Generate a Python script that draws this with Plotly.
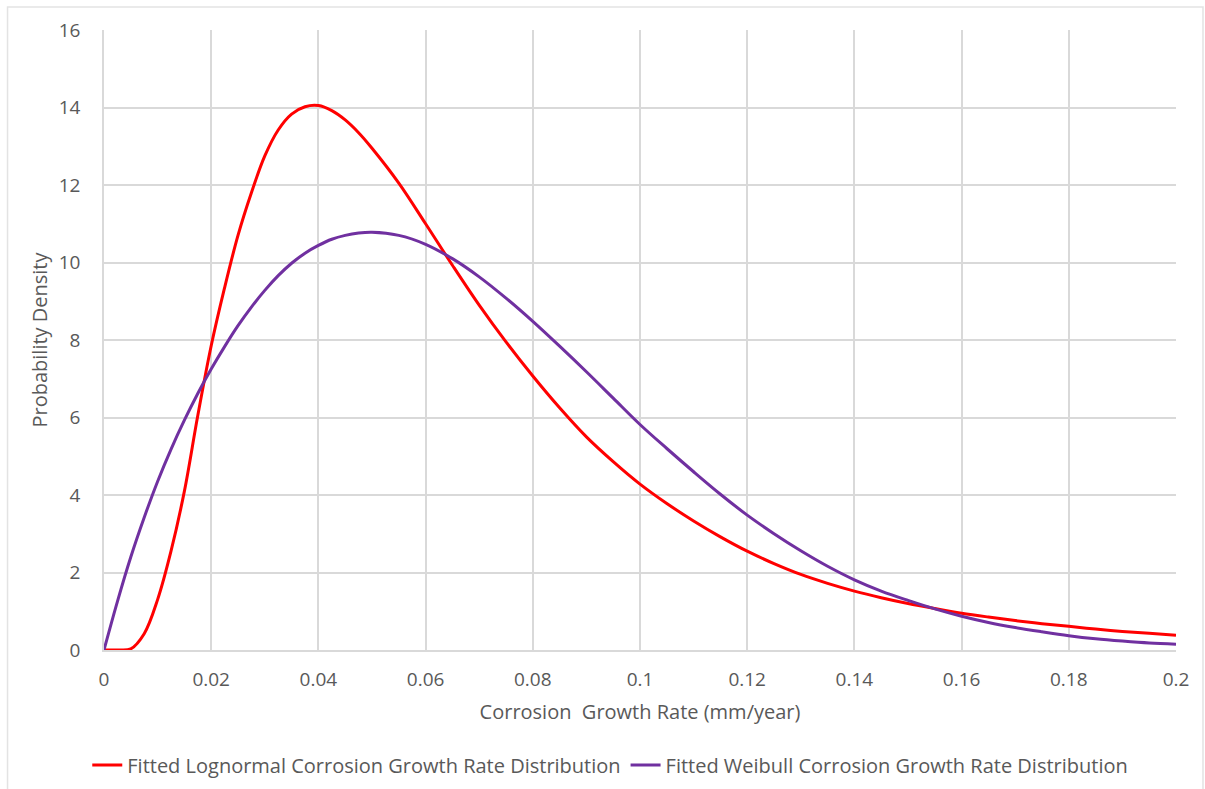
import plotly.graph_objects as go

# Fitted lognormal density (mm/year -> probability density)
lognormal_x = [0, 0.0025, 0.005, 0.0075, 0.01, 0.0125, 0.015, 0.0175, 0.02, 0.0225,
               0.025, 0.0275, 0.03, 0.0325, 0.035, 0.0375, 0.04, 0.0425, 0.045, 0.0475,
               0.05, 0.055, 0.06, 0.065, 0.07, 0.075, 0.08, 0.085, 0.09, 0.095,
               0.1, 0.105, 0.11, 0.115, 0.12, 0.125, 0.13, 0.135, 0.14, 0.145,
               0.15, 0.155, 0.16, 0.165, 0.17, 0.175, 0.18, 0.185, 0.19, 0.195, 0.2]
lognormal_y = [0, 0.0, 0.03, 0.42, 1.3, 2.55, 4.1, 6.05, 7.85, 9.35,
               10.7, 11.8, 12.75, 13.42, 13.83, 14.02, 14.05, 13.92, 13.68, 13.35,
               12.95, 12.05, 11.0, 9.93, 8.9, 7.95, 7.07, 6.25, 5.5, 4.86,
               4.28, 3.78, 3.33, 2.92, 2.55, 2.23, 1.95, 1.72, 1.52, 1.35,
               1.2, 1.07, 0.95, 0.85, 0.76, 0.68, 0.61, 0.54, 0.48, 0.43, 0.38]

# Fitted Weibull density
weibull_x = [0, 0.0025, 0.005, 0.0075, 0.01, 0.0125, 0.015, 0.0175, 0.02, 0.0225,
             0.025, 0.0275, 0.03, 0.0325, 0.035, 0.0375, 0.04, 0.0425, 0.045, 0.0475,
             0.05, 0.055, 0.06, 0.065, 0.07, 0.075, 0.08, 0.085, 0.09, 0.095,
             0.1, 0.105, 0.11, 0.115, 0.12, 0.125, 0.13, 0.135, 0.14, 0.145,
             0.15, 0.155, 0.16, 0.165, 0.17, 0.175, 0.18, 0.185, 0.19, 0.195, 0.2]
weibull_y = [0, 1.25, 2.4, 3.42, 4.35, 5.18, 5.93, 6.62, 7.25, 7.83,
             8.37, 8.85, 9.28, 9.66, 9.98, 10.24, 10.44, 10.6, 10.7, 10.76,
             10.78, 10.7, 10.47, 10.1, 9.63, 9.08, 8.48, 7.84, 7.18, 6.5,
             5.82, 5.2, 4.6, 4.02, 3.48, 3.0, 2.56, 2.16, 1.81, 1.52,
             1.28, 1.06, 0.87, 0.71, 0.58, 0.47, 0.37, 0.29, 0.23, 0.18, 0.15]

x_ticks = [0, 0.02, 0.04, 0.06, 0.08, 0.1, 0.12, 0.14, 0.16, 0.18, 0.2]
x_tick_labels = ["0", "0.02", "0.04", "0.06", "0.08", "0.1", "0.12", "0.14", "0.16", "0.18", "0.2"]
y_ticks = [0, 2, 4, 6, 8, 10, 12, 14, 16]

FONT = "Open Sans"
TEXT_GRAY = "#595959"
GRID = "#d9d9d9"

fig = go.Figure()
fig.add_trace(go.Scatter(
    x=lognormal_x, y=lognormal_y, mode="lines",
    name="Fitted Lognormal Corrosion Growth Rate Distribution",
    line=dict(color="#ff0000", width=3, shape="spline", smoothing=1.0),
))
fig.add_trace(go.Scatter(
    x=weibull_x, y=weibull_y, mode="lines",
    name="Fitted Weibull Corrosion Growth Rate Distribution",
    line=dict(color="#7030a0", width=3, shape="spline", smoothing=1.0),
))

# plot area in pixels: left 103.5, right 1176, top 30, bottom 650
L, R, T, B = 103.5, 1176, 30, 650
W, H = R - L, B - T


def px_x(p):
    return (p - L) / W


def px_y(p):
    return (B - p) / H


fig.update_layout(
    width=1205, height=789,
    margin=dict(l=L, r=1205 - R, t=T, b=789 - B, autoexpand=False),
    paper_bgcolor="white", plot_bgcolor="white",
    font=dict(family=FONT, size=19, color=TEXT_GRAY),
    showlegend=True,
    legend=dict(
        orientation="h", x=px_x(610), xanchor="center", y=px_y(765), yanchor="middle",
        font=dict(family=FONT, size=20, color=TEXT_GRAY),
        itemwidth=30, tracegroupgap=0, bgcolor="rgba(0,0,0,0)",
    ),
    xaxis=dict(
        range=[0, 0.2], tickmode="array", tickvals=x_ticks, ticktext=x_tick_labels,
        showgrid=True, gridcolor=GRID, gridwidth=1.5, zeroline=False,
        showline=True, linecolor=GRID, linewidth=1.5, mirror=False,
        ticks="", ticklabelstandoff=11,
        tickfont=dict(family=FONT, size=19, color=TEXT_GRAY),
        title=dict(text="Corrosion  Growth Rate (mm/year)", standoff=14,
                   font=dict(family=FONT, size=20, color=TEXT_GRAY)),
    ),
    yaxis=dict(
        range=[0, 16], tickmode="array", tickvals=y_ticks,
        showgrid=True, gridcolor=GRID, gridwidth=1.5, zeroline=False,
        showline=True, linecolor=GRID, linewidth=1.5,
        ticks="", ticklabelstandoff=18,
        tickfont=dict(family=FONT, size=19, color=TEXT_GRAY),
        title=dict(text="Probability Density", standoff=6,
                   font=dict(family=FONT, size=20, color=TEXT_GRAY)),
    ),
    shapes=[
        dict(type="rect", xref="paper", yref="paper",
             x0=px_x(7), x1=px_x(1203), y0=px_y(800), y1=px_y(7),
             line=dict(color="#e3e3e3", width=1.5), fillcolor="rgba(0,0,0,0)",
             layer="below"),
    ],
)

fig.write_html("out.html")
